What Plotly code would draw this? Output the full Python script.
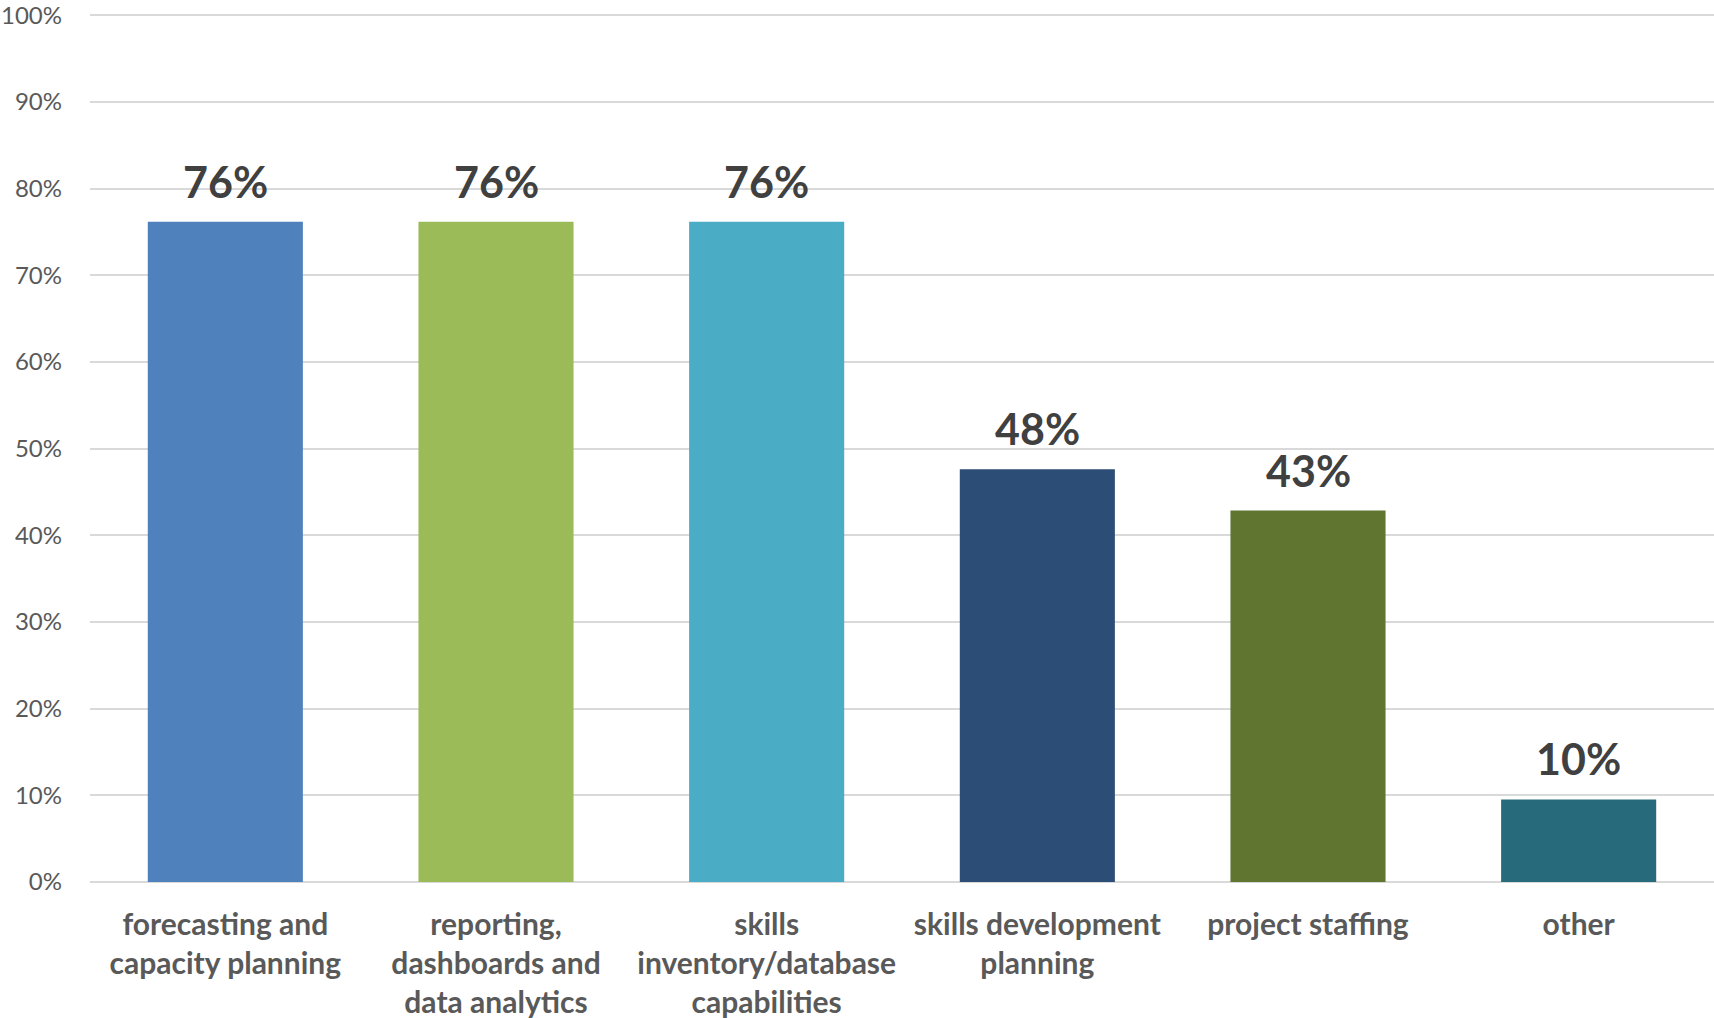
import plotly.graph_objects as go

# Survey results: share of respondents using each capability
categories = [
    "forecasting and<br>capacity planning",
    "reporting,<br>dashboards and<br>data analytics",
    "skills<br>inventory/database<br>capabilities",
    "skills development<br>planning",
    "project staffing",
    "other",
]
shares = [0.7619, 0.7619, 0.7619, 0.4762, 0.4286, 0.0952]
bar_colors = ["#4F81BD", "#9BBB59", "#4BACC6", "#2C4D75", "#5F7530", "#276A7C"]
y_ticks = [i / 10 for i in range(11)]
y_tick_labels = [f"{i * 10}%" for i in range(11)]

fig = go.Figure(
    go.Bar(
        x=categories,
        y=shares,
        marker=dict(color=bar_colors, line=dict(width=0)),
        width=0.573,
        hoverinfo="skip",
    )
)

# Value labels above each bar
for cat, val in zip(categories, shares):
    fig.add_annotation(
        x=cat, y=val, text=f"<b>{val:.0%}</b>",
        showarrow=False, yanchor="bottom", yshift=13,
        font=dict(family="Lato", size=43, color="#404040"),
    )

fig.update_layout(
    width=1714, height=1018,
    margin=dict(l=90, r=0, t=14, b=136),
    paper_bgcolor="white", plot_bgcolor="white",
    showlegend=False,
    font=dict(family="Lato", color="#595959"),
)
fig.update_xaxes(
    showgrid=False, showline=False, zeroline=False,
    ticks="outside", ticklen=16, tickcolor="rgba(0,0,0,0)",
    tickfont=dict(family="Lato", size=30, color="#595959", weight="bold"),
    tickangle=0,
)
fig.update_yaxes(
    range=[0, 1.0015], tickvals=y_ticks, ticktext=y_tick_labels,
    showgrid=True, gridcolor="#D9D9D9", gridwidth=2,
    zeroline=True, zerolinecolor="#D9D9D9", zerolinewidth=2,
    showline=False, ticks="", ticklabelstandoff=27,
    ticklabeloverflow="allow",
    tickfont=dict(family="Lato", size=24, color="#595959"),
)

fig.write_html("out.html")
